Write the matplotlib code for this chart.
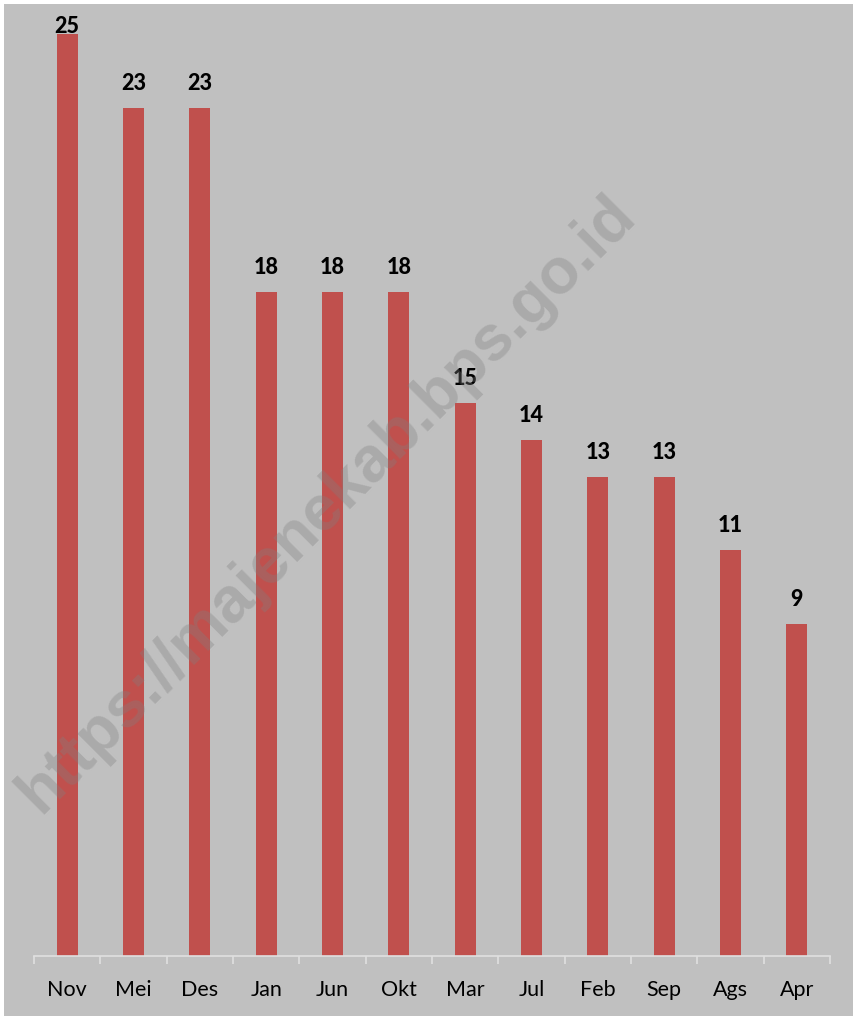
import matplotlib
matplotlib.use("Agg")
import matplotlib.pyplot as plt
from matplotlib.patches import Rectangle

# data
months = ['Nov', 'Mei', 'Des', 'Jan', 'Jun', 'Okt', 'Mar', 'Jul', 'Feb', 'Sep', 'Ags', 'Apr']
counts = [25, 23, 23, 18, 18, 18, 15, 14, 13, 13, 11, 9]

W, H = 854, 1016
bg = '#C0C0C0'
bar_col = '#C0504D'

fig = plt.figure(figsize=(W / 100, H / 100), dpi=100, facecolor='white')
# gray chart area with a thin white edge on top/left
fig.patches.append(Rectangle((4 / W, 0), 1, 1 - 4 / H, transform=fig.transFigure,
                             facecolor=bg, edgecolor='none', zorder=-10))

ax = fig.add_axes([34 / W, 60 / H, 796 / W, 946 / H])
ax.set_facecolor('none')

x = list(range(len(months)))
bars = ax.bar(x, counts, width=0.32, color=bar_col, zorder=2)

ax.set_xlim(-0.5, len(months) - 0.5)
ax.set_ylim(0, 946 / 36.88)

# labels above bars; the top one gets pushed down onto the bar like in Excel
for b, v in zip(bars, counts):
    ax.text(b.get_x() + b.get_width() / 2, min(v + 0.38, 24.92), str(v), ha='center',
            va='bottom', fontsize=15.5, fontweight='black', family='Lato', color='black',
            clip_on=False, zorder=3)

for s in ['top', 'right', 'left']:
    ax.spines[s].set_visible(False)
ax.spines['bottom'].set_color('#E0E0E0')
ax.spines['bottom'].set_linewidth(1.2)
ax.set_yticks([])

# tick marks between categories, labels centred under the bars
ax.set_xticks([i - 0.5 for i in range(len(months) + 1)])
ax.set_xticklabels([])
ax.set_xticks(x, minor=True)
ax.set_xticklabels(months, minor=True, fontsize=15.5, family='Lato')
ax.tick_params(axis='x', which='major', length=6, width=1.2, color='#E0E0E0', direction='out')
ax.tick_params(axis='x', which='minor', length=0, pad=17)

# watermark
fig.text(327 / W, 1 - 504 / H, 'https://majenekab.bps.go.id', rotation=45,
         ha='center', va='center', fontsize=46, fontweight='bold',
         family='Liberation Sans', color='#808080', alpha=0.34, zorder=10)

fig.savefig('out.png', dpi=100, facecolor=fig.get_facecolor())
